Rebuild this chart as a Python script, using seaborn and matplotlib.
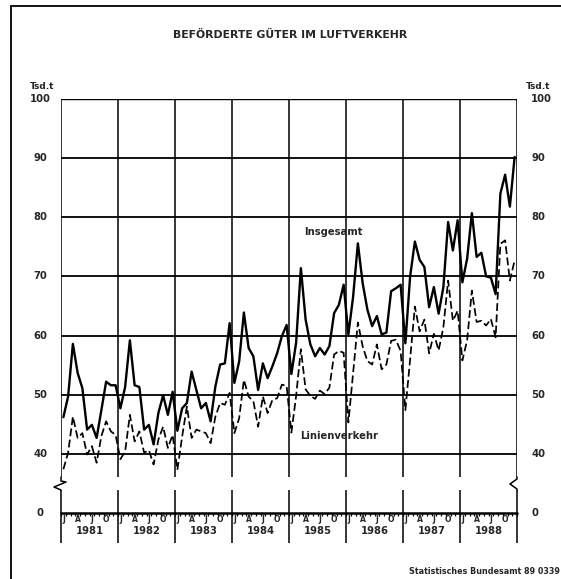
import numpy as np
import pandas as pd
import matplotlib
matplotlib.use("Agg")
import matplotlib.pyplot as plt
from matplotlib.lines import Line2D
import seaborn as sns

# ---------------- data ----------------
years = [1981, 1982, 1983, 1984, 1985, 1986, 1987, 1988]
month_letters = {0: "J", 3: "A", 6: "J", 9: "O"}
y_tick_values = [40, 50, 60, 70, 80, 90, 100]

insgesamt = [
    46.2, 49.7, 58.6, 53.7, 51.1, 44.1, 44.9, 42.7, 47.4, 52.2, 51.6, 51.6,   # 1981
    47.7, 51.3, 59.2, 51.6, 51.3, 44.1, 44.9, 41.6, 46.9, 49.9, 46.6, 50.5,   # 1982
    43.9, 47.7, 48.6, 53.9, 50.8, 47.7, 48.6, 45.5, 51.4, 55.1, 55.3, 62.1,   # 1983
    52.0, 55.6, 63.9, 57.9, 56.5, 50.8, 55.3, 52.8, 54.8, 57.0, 59.9, 61.8,   # 1984
    53.5, 58.8, 71.4, 62.7, 58.5, 56.5, 57.9, 56.8, 58.2, 63.8, 65.2, 68.6,   # 1985
    60.2, 66.6, 75.6, 68.9, 64.4, 61.6, 63.3, 60.2, 60.5, 67.5, 68.0, 68.6,   # 1986
    58.7, 70.0, 75.9, 72.8, 71.6, 64.8, 68.2, 63.7, 68.2, 79.2, 74.4, 79.5,   # 1987
    69.0, 73.0, 80.7, 73.3, 74.0, 70.0, 69.8, 67.0, 84.0, 87.2, 81.8, 90.2,   # 1988
]
linienverkehr = [
    37.4, 40.2, 46.3, 42.7, 43.5, 39.9, 41.3, 38.5, 43.0, 45.5, 43.8, 43.2,   # 1981
    39.1, 40.4, 46.6, 42.1, 43.8, 40.2, 40.6, 38.2, 42.4, 44.6, 41.0, 43.2,   # 1982
    37.3, 42.9, 48.0, 42.7, 44.1, 43.8, 43.5, 41.8, 46.3, 48.6, 48.3, 50.3,   # 1983
    43.5, 46.0, 52.5, 49.7, 48.9, 44.6, 49.7, 46.9, 49.1, 49.4, 51.7, 51.5,   # 1984
    43.6, 49.8, 57.7, 50.9, 49.8, 49.3, 50.7, 50.1, 51.2, 56.8, 57.4, 57.1,   # 1985
    45.3, 53.7, 62.2, 58.2, 55.7, 55.1, 58.5, 54.3, 55.1, 59.1, 59.3, 57.4,   # 1986
    47.4, 56.0, 64.9, 60.7, 62.7, 57.0, 60.3, 57.5, 61.4, 69.3, 62.5, 64.2,   # 1987
    55.8, 59.2, 67.6, 62.3, 62.5, 61.7, 62.8, 59.7, 75.5, 76.1, 69.3, 72.7,   # 1988
]

# ---------------- style ----------------
sns.set_theme(style="white")
plt.rcParams["font.family"] = ["DejaVu Sans"]
plt.rcParams["font.weight"] = "bold"

W, H = 561, 579
fig = plt.figure(figsize=(W / 100, H / 100), dpi=100)
fig.patch.set_facecolor("white")

# axes: x pixels 61..517, y pixels 99 (value 100) .. 513 (displayed 0 -> 30)
AX_L, AX_R, AX_T, AX_B = 61, 517, 99, 513
ax = fig.add_axes([AX_L / W, 1 - AX_B / H, (AX_R - AX_L) / W, (AX_B - AX_T) / H])
ax.set_facecolor("white")

n = len(years) * 12
pos = np.arange(n) + 0.5
df = pd.DataFrame({
    "pos": np.concatenate([pos, pos]),
    "value": insgesamt + linienverkehr,
    "series": ["Insgesamt"] * n + ["Linienverkehr"] * n,
})

YMIN, YMAX = 30, 100
ax.set_xlim(0, n)
ax.set_ylim(YMIN, YMAX)

def px2x(px):
    return (px - AX_L) / (AX_R - AX_L) * n

def py2y(py):
    return YMIN + (AX_B - py) / (AX_B - AX_T) * (YMAX - YMIN)

# grid
for v in [40, 50, 60, 70, 80, 90]:
    ax.axhline(v, color="black", lw=1.3, zorder=1)
ax.axhline(100, color="black", lw=1.0, zorder=1)
gap_top, gap_bot = py2y(477), py2y(490)
below = py2y(543)
for i in range(len(years) + 1):
    x = i * 12
    ax.plot([x, x], [gap_top, 100], color="black", lw=1.1, zorder=1, solid_capstyle="butt")
    ax.plot([x, x], [below, gap_bot], color="black", lw=1.1, zorder=1,
            clip_on=False, solid_capstyle="butt")
# baseline
ax.axhline(YMIN, color="black", lw=1.8, zorder=2, clip_on=False)

# zigzags at the axis breaks
zx = [px2x(61), px2x(61), px2x(66), px2x(54), px2x(61), px2x(61)]
zy = [gap_top, py2y(481), py2y(482), py2y(487), py2y(490), gap_bot]
ax.plot(zx, zy, color="black", lw=1.1, clip_on=False)
zx2 = [px2x(517), px2x(517), px2x(510), px2x(517), px2x(517)]
zy2 = [gap_top, py2y(479), py2y(484), py2y(489), gap_bot]
ax.plot(zx2, zy2, color="black", lw=1.1, clip_on=False)

# data lines
sns.lineplot(data=df[df.series == "Insgesamt"], x="pos", y="value",
             color="black", lw=1.7, ax=ax, zorder=3)
sns.lineplot(data=df[df.series == "Linienverkehr"], x="pos", y="value",
             color="black", lw=1.25, ax=ax, zorder=3, dashes=(4.5, 2))

for s in ax.spines.values():
    s.set_visible(False)
ax.set_xlabel("")
ax.set_ylabel("")
ax.set_xticks(np.arange(0, n + 1))
ax.set_xticklabels([])
ax.set_yticks([])
ax.tick_params(axis="x", which="major", direction="out", length=2.2, width=0.9,
               color="black", bottom=True, pad=0)

# y labels (left centered at 40px, right left-aligned at 532px)
fs = 7.2
for v in y_tick_values:
    ax.text(px2x(40), v, str(v), ha="center", va="center", fontsize=fs,
            fontweight="bold", clip_on=False)
    ax.text(px2x(531), v, str(v), ha="left", va="center", fontsize=fs,
            fontweight="bold", clip_on=False)
ax.text(px2x(40), YMIN, "0", ha="center", va="center", fontsize=fs,
        fontweight="bold", clip_on=False)
ax.text(px2x(531), YMIN, "0", ha="left", va="center", fontsize=fs,
        fontweight="bold", clip_on=False)
ax.text(px2x(42), py2y(86), "Tsd.t", ha="center", va="center", fontsize=6.5,
        fontweight="bold", clip_on=False)
ax.text(px2x(538), py2y(86), "Tsd.t", ha="center", va="center", fontsize=6.5,
        fontweight="bold", clip_on=False)

# month letters and years
for i, yr in enumerate(years):
    for m, letter in month_letters.items():
        ax.text(i * 12 + m + 0.5, py2y(520), letter, ha="center", va="center",
                fontsize=5.5, fontweight="bold", clip_on=False)
    ax.text(i * 12 + 6, py2y(530.5), str(yr), ha="center", va="center",
            fontsize=7.2, fontweight="bold", clip_on=False)

# series labels
ax.text(px2x(333), py2y(232), "Insgesamt", ha="center", va="center",
        fontsize=7.2, fontweight="bold")
ax.text(px2x(339), py2y(436), "Linienverkehr", ha="center", va="center",
        fontsize=7.2, fontweight="bold")

# title and source
fig.text(290 / W, 1 - 35 / H, "BEFÖRDERTE GÜTER IM LUFTVERKEHR", ha="center",
         va="center", fontsize=7.8, fontweight="bold")
fig.text(560 / W, 1 - 572 / H, "Statistisches Bundesamt 89 0339", ha="right",
         va="center", fontsize=5.8, fontweight="bold")

# outer frame (top and left)
fig.add_artist(Line2D([11 / W, 11 / W], [0, 1 - 6 / H], color="black", lw=1.3))
fig.add_artist(Line2D([11 / W, 1], [1 - 6 / H, 1 - 6 / H], color="black", lw=1.3))

fig.savefig("out.png", dpi=100, facecolor="white")
